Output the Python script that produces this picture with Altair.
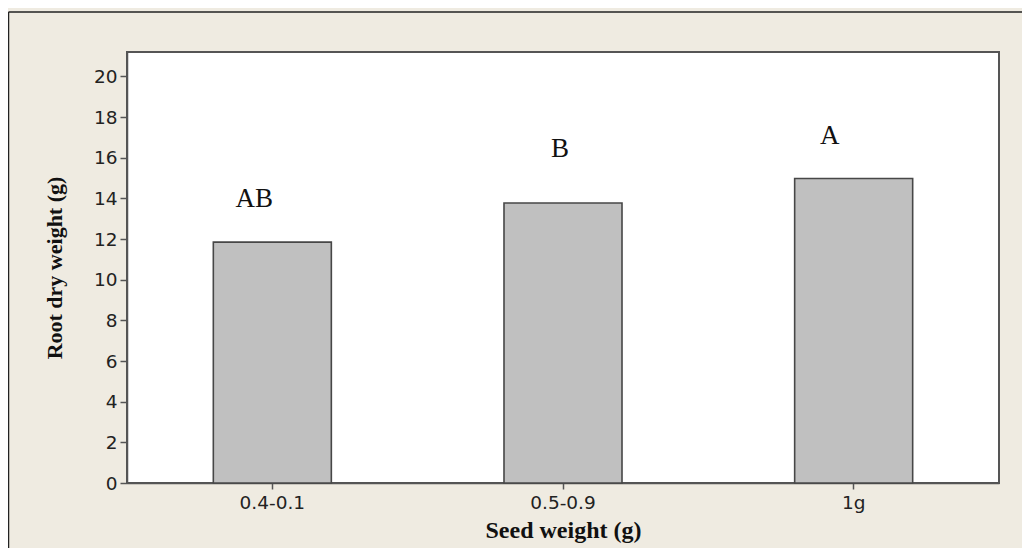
import altair as alt
import pandas as pd

categories = ["0.4-0.1", "0.5-0.9", "1g"]
root_dry_weight = [11.85, 13.77, 14.98]
letters = ["AB", "B", "A"]
letter_height = [13.95, 16.45, 17.05]
letter_dx = [-18, -3, -24]

df = pd.DataFrame({"seed": categories, "root": root_dry_weight})

W, H = 872, 431

bars = alt.Chart(df).mark_bar(
    fill="#c0c0c0", stroke="#474747", strokeWidth=1.6
).encode(
    x=alt.X(
        "seed:N", sort=categories, title="Seed weight (g)",
        scale=alt.Scale(paddingInner=0.594, paddingOuter=0.297),
        axis=alt.Axis(
            labelAngle=0, labelFont="DejaVu Sans", labelFontSize=18.5,
            labelColor="#222222", labelPadding=4, tickSize=6, tickColor="#555555",
            tickWidth=1.5, domainColor="#555555", domainWidth=1.5,
            titleFont="Liberation Serif", titleFontWeight="bold", titleFontSize=24,
            titleColor="#111111", titlePadding=7,
        ),
    ),
    y=alt.Y(
        "root:Q", title="Root dry weight (g)",
        scale=alt.Scale(domain=[0, 21.2], nice=False, zero=True),
        axis=alt.Axis(
            values=list(range(0, 21, 2)), grid=False, labelFont="DejaVu Sans",
            labelFontSize=18.5, labelColor="#222222", labelPadding=3, tickSize=7,
            tickColor="#555555", tickWidth=1.5, domainColor="#555555", domainWidth=1.5,
            titleFont="Liberation Serif", titleFontWeight="bold", titleFontSize=22,
            titleColor="#111111", titlePadding=27,
        ),
    ),
)

layers = [bars]
for cat, let, h, dx in zip(categories, letters, letter_height, letter_dx):
    ldf = pd.DataFrame({"seed": [cat], "h": [h], "t": [let]})
    layers.append(
        alt.Chart(ldf).mark_text(
            font="Liberation Serif", fontSize=27, color="#111111", dx=dx,
            baseline="middle", align="center",
        ).encode(
            x=alt.X("seed:N", sort=categories),
            y=alt.Y("h:Q"),
            text="t:N",
        )
    )

frame_df = pd.DataFrame({"a": [0]})
left_line = alt.Chart(frame_df).mark_rule(color="#222222", strokeWidth=1.5).encode(
    x=alt.value(-118.5), y=alt.value(-40), y2=alt.value(H + 70)
)
top_line = alt.Chart(frame_df).mark_rule(color="#222222", strokeWidth=1.5).encode(
    x=alt.value(-118.5), x2=alt.value(W + 30), y=alt.value(-40)
)
layers += [left_line, top_line]

chart = alt.layer(*layers).properties(
    width=W, height=H,
    autosize=alt.AutoSizeParams(type="none"),
    padding={"left": 119, "top": 44, "right": 23, "bottom": 65},
    background="#efebe1",
).configure_view(
    fill="white", stroke="#555555", strokeWidth=2
)

chart.save("out.html", embed_options={"renderer": "svg", "actions": False})
